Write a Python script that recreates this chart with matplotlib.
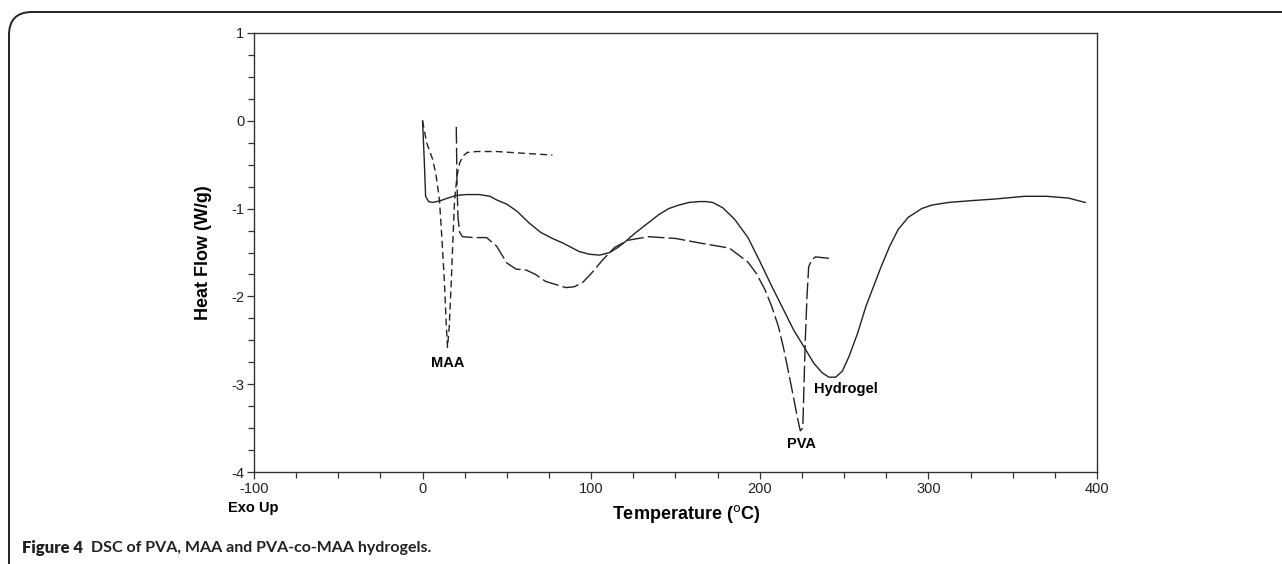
import matplotlib
matplotlib.use("Agg")
import matplotlib.pyplot as plt
from matplotlib.patches import FancyBboxPatch
from matplotlib.ticker import MultipleLocator

plt.rcParams['font.family'] = ['Liberation Sans', 'DejaVu Sans']
plt.rcParams['axes.unicode_minus'] = False

# Hydrogel (PVA-co-MAA), solid
gel_t = [0.0, 1.0, 1.8, 3.6, 6.0, 10.6, 15.0, 20.0, 26.0, 33.7, 40.0, 43.8, 50.0,
         56.0, 63.0, 70.0, 77.0, 83.0, 88.0, 93.0, 99.0, 105.0, 111.0, 116.0, 120.0,
         126.0, 134.0, 140.0, 146.0, 152.0, 158.0, 164.0, 168.0, 172.0, 178.0,
         185.0, 193.0, 200.0, 207.0, 213.0, 220.0, 227.0, 232.0, 237.0, 241.0,
         245.0, 249.0, 253.0, 258.0, 263.0, 268.0, 272.0, 277.0, 282.0, 288.0,
         296.0, 302.0, 312.0, 325.0, 340.0, 357.0, 370.0, 383.0, 393.0]
gel_hf = [0.0, -0.45, -0.86, -0.92, -0.93, -0.91, -0.88, -0.85, -0.84, -0.84, -0.86, -0.9, -0.95,
          -1.03, -1.16, -1.27, -1.34, -1.39, -1.44, -1.49, -1.52, -1.53, -1.5, -1.44, -1.38,
          -1.28, -1.16, -1.07, -1.0, -0.96, -0.93, -0.92, -0.92, -0.93, -0.99,
          -1.12, -1.33, -1.6, -1.88, -2.11, -2.38, -2.6, -2.76, -2.87, -2.92,
          -2.92, -2.85, -2.68, -2.42, -2.11, -1.86, -1.66, -1.43, -1.24, -1.1,
          -1.0, -0.96, -0.93, -0.91, -0.89, -0.86, -0.86, -0.88, -0.93]

# MAA, short dashes
maa_t = [0.0, 2.4, 6.0, 8.0, 10.0, 11.5, 13.0, 14.0, 14.8, 15.8, 17.0, 18.0, 19.0,
         20.5, 22.0, 24.0, 26.6, 32.0, 44.0, 60.0, 77.0]
maa_hf = [0.0, -0.25, -0.44, -0.62, -0.9, -1.35, -1.85, -2.3, -2.58, -2.35, -1.84, -1.35, -0.9,
          -0.62, -0.48, -0.4, -0.36, -0.35, -0.35, -0.37, -0.39]

# PVA, long dashes
pva_t = [20.0, 20.4, 21.0, 22.0, 23.7, 30.0, 38.0, 44.0, 50.0, 55.6, 61.5, 67.0, 73.0,
         80.0, 85.0, 90.0, 95.0, 100.0, 107.0, 114.0, 122.0, 134.0, 150.0, 164.0,
         182.0, 193.0, 198.0, 203.0, 207.0, 211.0, 214.0, 217.0, 220.0, 222.0, 224.0,
         225.5, 227.0, 228.0, 229.0, 231.0, 233.0, 238.0, 243.0]
pva_hf = [-0.07, -0.7, -1.1, -1.27, -1.32, -1.33, -1.33, -1.43, -1.62, -1.69, -1.7, -1.75, -1.83,
          -1.87, -1.9, -1.89, -1.84, -1.74, -1.58, -1.44, -1.36, -1.32, -1.34, -1.39,
          -1.45, -1.61, -1.74, -1.92, -2.11, -2.34, -2.58, -2.86, -3.15, -3.35, -3.53,
          -3.5, -2.49, -2.0, -1.66, -1.58, -1.55, -1.56, -1.57]

fig = plt.figure(figsize=(12.82, 5.64), dpi=100)
ax = fig.add_axes([0.1981, 0.1631, 0.6576, 0.7784])

lc = '#222222'
ax.plot(gel_t, gel_hf, color=lc, lw=1.0)
ax.plot(maa_t, maa_hf, color=lc, lw=1.0, dashes=(5, 3))
ax.plot(pva_t, pva_hf, color=lc, lw=1.0, dashes=(12, 3))

ax.set_xlim(-100, 400)
ax.set_ylim(-4, 1)
ax.xaxis.set_major_locator(MultipleLocator(100))
ax.xaxis.set_minor_locator(MultipleLocator(25))
ax.yaxis.set_major_locator(MultipleLocator(1))
ax.yaxis.set_minor_locator(MultipleLocator(0.25))
ax.tick_params(which='both', direction='out', top=False, right=False,
               color='#333333', labelsize=10.5, labelcolor='#222222')
ax.tick_params(which='major', length=5, width=0.9, pad=2)
ax.tick_params(which='minor', length=4, width=0.9)
for s in ax.spines.values():
    s.set_color('#333333')
    s.set_linewidth(1.0)

ax.set_ylabel('Heat Flow (W/g)', fontsize=13, fontweight='bold', labelpad=14)
fig.text(0.535, 0.088, 'Temperature ($^{\\rm o}$C)', fontsize=13, fontweight='bold',
         ha='center', va='center')
fig.text(0.178, 0.100, 'Exo Up', fontsize=10.5, fontweight='bold', ha='left', va='center')

ax.text(15, -2.68, 'MAA', fontsize=10.5, fontweight='bold', ha='center', va='top')
ax.text(225, -3.6, 'PVA', fontsize=10.5, fontweight='bold', ha='center', va='top')
ax.text(232, -2.98, 'Hydrogel', fontsize=10.5, fontweight='bold', ha='left', va='top')

# outer frame around the figure panel
frame = FancyBboxPatch((9 / 1282, -0.1), 1.2, (564 - 12) / 564 + 0.1,
                       boxstyle='round,pad=0,rounding_size=0.018',
                       transform=fig.transFigure, fill=False,
                       edgecolor='#222222', linewidth=1.4, mutation_aspect=2.27)
fig.patches.append(frame)

fig.text(22 / 1282, 0.028, 'Figure 4', fontsize=12, fontweight='heavy',
         family=['Lato', 'DejaVu Sans'], color='#222222', ha='left', va='center')
fig.text(91 / 1282, 0.028, 'DSC of PVA, MAA and PVA-co-MAA hydrogels.', fontsize=11.5,
         fontweight='bold', family=['Lato', 'DejaVu Sans'], color='#222222',
         ha='left', va='center')

fig.savefig('out.png', dpi=100)
